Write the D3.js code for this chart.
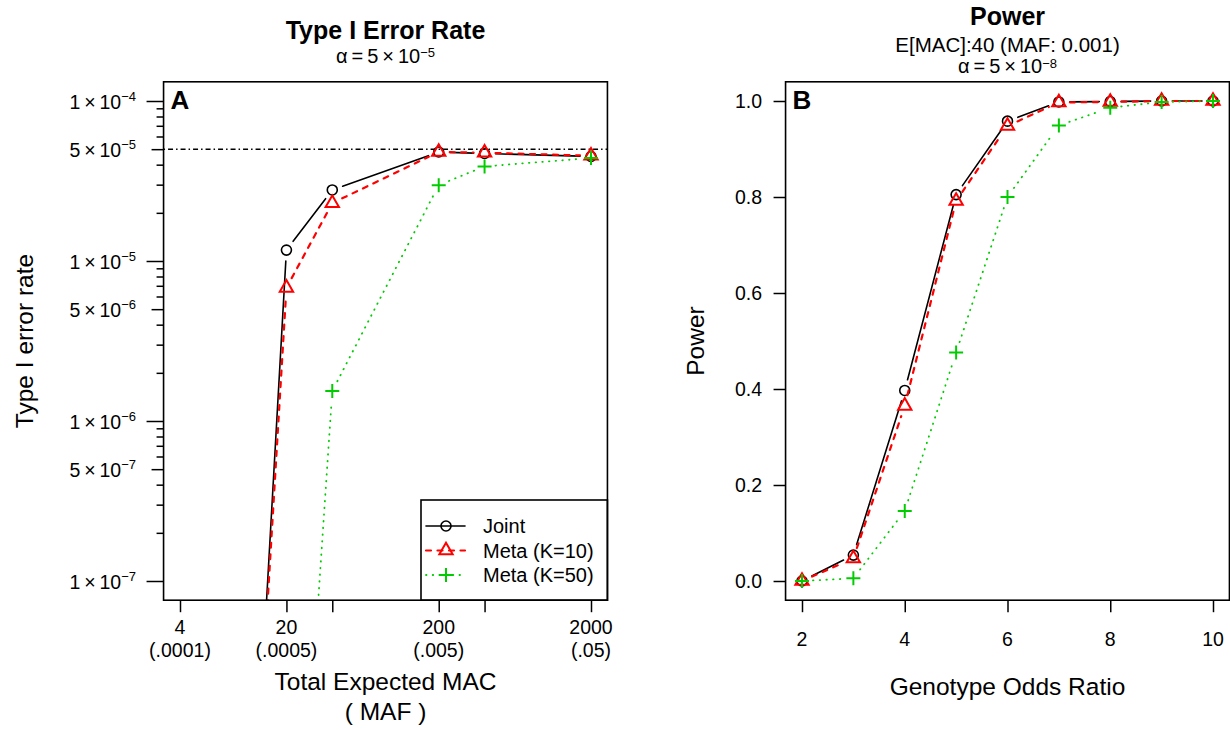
<!DOCTYPE html>
<html><head><meta charset="utf-8">
<script src="https://cdn.jsdelivr.net/npm/d3@7"></script>
<style>body{margin:0;background:#fff} svg text{font-family:"Liberation Sans",Arial,Helvetica,sans-serif;fill:#000}</style>
</head><body><svg id="c" width="1230" height="730"></svg>
<script>
// ---------------- data ----------------
const macValues = [4, 20, 40, 200, 400, 2000];
const macLabelTop = ["4", "20", "", "200", "", "2000"];
const macLabelBottom = ["(.0001)", "(.0005)", "", "(.005)", "", "(.05)"];
const errJoint  = [2.2e-17, 1.17e-5, 2.78e-5, 4.8e-5, 4.7e-5, 4.5e-5];
const errMeta10 = [5.5e-17, 6.8e-6, 2.3e-5, 4.8e-5, 4.75e-5, 4.55e-5];
const errMeta50 = [1e-20, 8.3e-11, 1.54e-6, 2.98e-5, 3.9e-5, 4.4e-5];
const alphaLevel = 5e-5;
const errLabelTicks = [[1,-4],[5,-5],[1,-5],[5,-6],[1,-6],[5,-7],[1,-7]];

const orValues  = [2, 3, 4, 5, 6, 7, 8, 9, 10];
const powJoint  = [0.0, 0.054, 0.397, 0.805, 0.958, 0.998, 0.999, 1.0, 1.0];
const powMeta10 = [0.0, 0.047, 0.365, 0.792, 0.948, 0.997, 0.998, 1.0, 1.0];
const powMeta50 = [0.0, 0.0056, 0.146, 0.476, 0.80, 0.949, 0.986, 0.998, 1.0];
const powTicks  = [0, 0.2, 0.4, 0.6, 0.8, 1.0];
const orTicks   = [2, 4, 6, 8, 10];

const seriesNames = ["Joint", "Meta (K=10)", "Meta (K=50)"];

// ---------------- styles ----------------
const styles = [
  {color:"#000000", lw:1.6, dash:null, cap:"round", shape:"circle"},
  {color:"#ff0000", lw:2.2, dash:"5,6.5", cap:"round", shape:"triangle"},
  {color:"#00cd00", lw:1.8, dash:"0.5,6.2", cap:"round", shape:"plus"}
];

const svg = d3.select("#c");
svg.append("rect").attr("width",1230).attr("height",730).attr("fill","#fff");

function boxOf(xs, ys){
  const [a,b] = xs.range(); const px = 0.04*(b-a);
  const [c,d] = ys.range(); const py = 0.04*(c-d);
  return {x0:a-px, x1:b+px, y0:d-py, y1:c+py};
}
function drawSymbol(g, shape, x, y, color){
  if(shape==="circle"){
    g.append("circle").attr("cx",x).attr("cy",y).attr("r",5)
      .attr("fill","none").attr("stroke",color).attr("stroke-width",1.6);
  } else if(shape==="triangle"){
    const r=7.7, xc=r*Math.sqrt(3)/2, yc=r/2;
    g.append("path").attr("d",`M${x},${y-r}L${x+xc},${y+yc}L${x-xc},${y+yc}Z`)
      .attr("fill","none").attr("stroke",color).attr("stroke-width",2).attr("stroke-linejoin","miter");
  } else {
    const a=7;
    g.append("path").attr("d",`M${x-a},${y}H${x+a}M${x},${y-a}V${y+a}`)
      .attr("fill","none").attr("stroke",color).attr("stroke-width",2);
  }
}
function gapSegs(pts, g){
  const segs=[];
  for(let i=0;i<pts.length-1;i++){
    const [x0,y0]=pts[i],[x1,y1]=pts[i+1];
    const dx=x1-x0, dy=y1-y0, L=Math.hypot(dx,dy);
    if(L<=2*g) continue;
    const ux=dx/L, uy=dy/L;
    segs.push([x0+ux*g,y0+uy*g,x1-ux*g,y1-uy*g]);
  }
  return segs;
}
function drawSeries(g, xs, ys, xv, yv, st){
  const pts = xv.map((x,i)=>[xs(x), ys(yv[i])]);
  gapSegs(pts, 11).forEach(s=>{
    const l = g.append("line").attr("x1",s[0]).attr("y1",s[1]).attr("x2",s[2]).attr("y2",s[3])
      .attr("stroke",st.color).attr("stroke-width",st.lw).attr("stroke-linecap",st.cap);
    if(st.dash) l.attr("stroke-dasharray",st.dash);
  });
  pts.forEach(p=>drawSymbol(g, st.shape, p[0], p[1], st.color));
}
function frame(b, id){
  svg.append("clipPath").attr("id",id).append("rect")
    .attr("x",b.x0).attr("y",b.y0).attr("width",b.x1-b.x0).attr("height",b.y1-b.y0);
}
function drawBox(b){
  svg.append("rect").attr("x",b.x0).attr("y",b.y0).attr("width",b.x1-b.x0).attr("height",b.y1-b.y0)
    .attr("fill","none").attr("stroke","#000").attr("stroke-width",1.6);
}
function styleAxis(g){
  g.select(".domain").remove();
  g.selectAll(".tick line").attr("stroke","#000").attr("stroke-width",1.5);
  g.selectAll(".tick text").remove();
}
function sci(sel, m, e, supSize){
  sel.append("tspan").text(m+"\u2009×\u200910");
  sel.append("tspan").attr("dy",-8).attr("font-size",supSize).text("\u2212"+Math.abs(e));
}

// ================= Panel A =================
const xL = d3.scaleLog().domain([4,2000]).range([180,591]);
const yL = d3.scaleLog().domain([1e-7,1e-4]).range([581,101]);
const bL = boxOf(xL, yL);
frame(bL, "clipA");

// y ticks: 1x (long), 5x (mid), others (short)
const allMinor = [];
for(let e=-7;e<=-5;e++) for(let m=1;m<=9;m++) allMinor.push(m*Math.pow(10,e));
allMinor.push(1e-4);
const tOnes = allMinor.filter(v=>Math.abs(Math.log10(v)-Math.round(Math.log10(v)))<1e-9);
const tFives = errLabelTicks.filter(d=>d[0]===5).map(d=>d[0]*Math.pow(10,d[1]));
const tRest = allMinor.filter(v=>!tOnes.includes(v) && !tFives.some(f=>Math.abs(f-v)/f<1e-9));
[[tOnes,17],[tFives,12],[tRest,7]].forEach(([vals,len])=>{
  svg.append("g").attr("transform",`translate(${bL.x0},0)`)
    .call(d3.axisLeft(yL).tickValues(vals).tickSize(len).tickSizeOuter(0)).call(styleAxis);
});
errLabelTicks.forEach(([m,e])=>{
  const y = yL(m*Math.pow(10,e));
  svg.append("text").attr("x",136).attr("y",y+8).attr("text-anchor","end")
    .attr("font-size",19.5).call(s=>sci(s,m,e,13));
});
// x ticks
svg.append("g").attr("transform",`translate(0,${bL.y1})`)
  .call(d3.axisBottom(xL).tickValues(macValues).tickSize(12).tickSizeOuter(0)).call(styleAxis);
macValues.forEach((v,i)=>{
  if(!macLabelTop[i]) return;
  svg.append("text").attr("x",xL(v)).attr("y",634).attr("text-anchor","middle").attr("font-size",19.5).text(macLabelTop[i]);
  svg.append("text").attr("x",xL(v)).attr("y",657).attr("text-anchor","middle").attr("font-size",19.5).text(macLabelBottom[i]);
});

const gA = svg.append("g").attr("clip-path","url(#clipA)");
gA.append("line").attr("x1",bL.x0).attr("x2",bL.x1).attr("y1",yL(alphaLevel)).attr("y2",yL(alphaLevel))
  .attr("stroke","#000").attr("stroke-width",1.5).attr("stroke-dasharray","1.5,3,5,3");
[errJoint, errMeta10, errMeta50].forEach((vals,k)=>drawSeries(gA, xL, yL, macValues, vals, styles[k]));

// legend
const lg = svg.append("g");
lg.append("rect").attr("x",421).attr("y",500).attr("width",bL.x1-421).attr("height",bL.y1-500)
  .attr("fill","#fff").attr("stroke","#000").attr("stroke-width",1.6);
const legY = [533, 557.5, 582];
seriesNames.forEach((nm,k)=>{
  const st = styles[k], cy = legY[k]-7;
  const l = lg.append("line").attr("x1",426).attr("x2",465).attr("y1",cy).attr("y2",cy)
    .attr("stroke",st.color).attr("stroke-width",st.lw).attr("stroke-linecap",st.cap);
  if(st.dash) l.attr("stroke-dasharray",st.dash);
  drawSymbol(lg, st.shape, 446, cy, st.color);
  lg.append("text").attr("x",483).attr("y",legY[k]).attr("font-size",20).text(nm);
});
drawBox(bL);
svg.append("text").attr("x",bL.x0+7).attr("y",109).attr("font-size",26).attr("font-weight","bold").text("A");

// titles
const cL = (bL.x0+bL.x1)/2;
svg.append("text").attr("x",cL).attr("y",39).attr("text-anchor","middle").attr("font-size",25).attr("font-weight","bold").text("Type I Error Rate");
svg.append("text").attr("x",cL).attr("y",63).attr("text-anchor","middle").attr("font-size",20)
  .call(s=>{s.append("tspan").text("α\u2009=\u20095\u2009×\u200910"); s.append("tspan").attr("dy",-6).attr("font-size",13).text("\u22125");});
svg.append("text").attr("x",cL).attr("y",690).attr("text-anchor","middle").attr("font-size",24.5).text("Total Expected MAC");
svg.append("text").attr("x",cL).attr("y",720).attr("text-anchor","middle").attr("font-size",24.5).text("( MAF )");
svg.append("text").attr("transform",`translate(33,${(bL.y0+bL.y1)/2}) rotate(-90)`).attr("text-anchor","middle").attr("font-size",24.5).text("Type I error rate");

// ================= Panel B =================
const xR = d3.scaleLinear().domain([2,10]).range([802,1213]);
const yR = d3.scaleLinear().domain([0,1]).range([581,101]);
const bR = boxOf(xR, yR);
frame(bR, "clipB");
svg.append("g").attr("transform",`translate(${bR.x0},0)`)
  .call(d3.axisLeft(yR).tickValues(powTicks).tickSize(12).tickSizeOuter(0)).call(styleAxis);
svg.append("g").attr("transform",`translate(0,${bR.y1})`)
  .call(d3.axisBottom(xR).tickValues(orTicks).tickSize(12).tickSizeOuter(0)).call(styleAxis);
powTicks.forEach(v=>{
  svg.append("text").attr("x",762).attr("y",yR(v)+7).attr("text-anchor","end").attr("font-size",19.5).text(d3.format(".1f")(v));
});
orTicks.forEach(v=>{
  svg.append("text").attr("x",xR(v)).attr("y",646).attr("text-anchor","middle").attr("font-size",19.5).text(v);
});
const gB = svg.append("g").attr("clip-path","url(#clipB)");
[powJoint, powMeta10, powMeta50].forEach((vals,k)=>drawSeries(gB, xR, yR, orValues, vals, styles[k]));
drawBox(bR);
svg.append("text").attr("x",bR.x0+7).attr("y",109).attr("font-size",26).attr("font-weight","bold").text("B");

const cR = (bR.x0+bR.x1)/2;
svg.append("text").attr("x",cR).attr("y",25).attr("text-anchor","middle").attr("font-size",25).attr("font-weight","bold").text("Power");
svg.append("text").attr("x",cR).attr("y",51.5).attr("text-anchor","middle").attr("font-size",20.5).text("E[MAC]:40 (MAF: 0.001)");
svg.append("text").attr("x",cR).attr("y",73).attr("text-anchor","middle").attr("font-size",20)
  .call(s=>{s.append("tspan").text("α\u2009=\u20095\u2009×\u200910"); s.append("tspan").attr("dy",-5).attr("font-size",13).text("\u22128");});
svg.append("text").attr("x",cR).attr("y",695).attr("text-anchor","middle").attr("font-size",24.5).text("Genotype Odds Ratio");
svg.append("text").attr("transform",`translate(704,${(bR.y0+bR.y1)/2}) rotate(-90)`).attr("text-anchor","middle").attr("font-size",24.5).text("Power");
</script>
</body></html>
